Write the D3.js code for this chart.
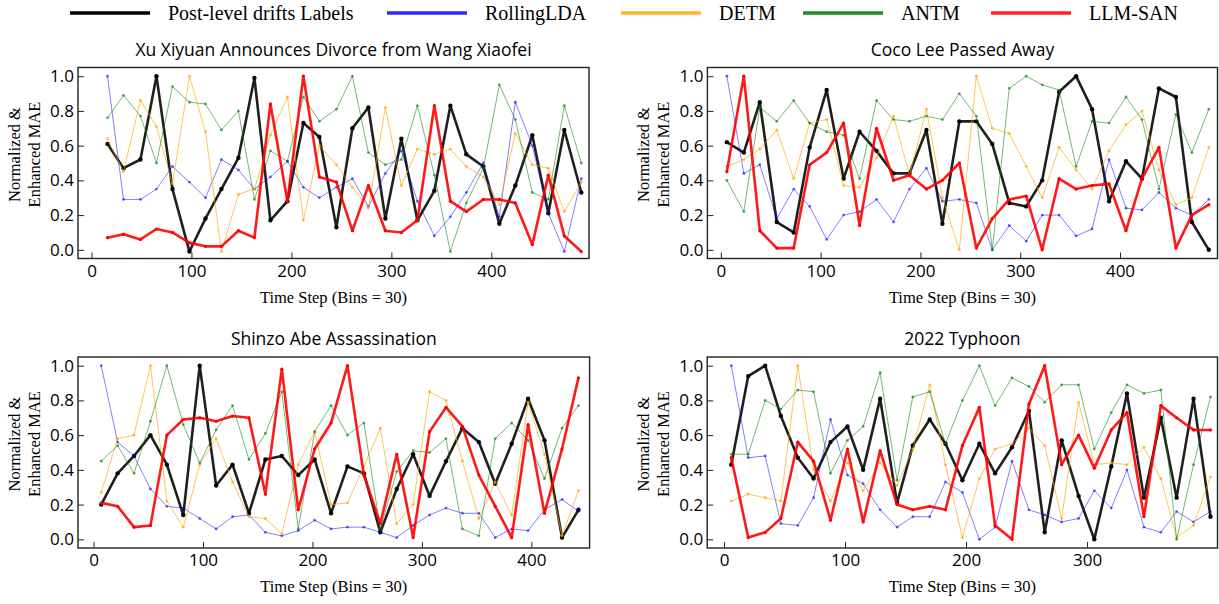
<!DOCTYPE html>
<html>
<head>
<meta charset="utf-8">
<script src="https://cdn.jsdelivr.net/npm/d3@7"></script>
<style>
  body { margin: 0; background: #fff; }
  .tick text { font-family: "Open Sans", sans-serif; font-size: 17px; fill: #000; }
  .title { font-family: "Open Sans", sans-serif; font-size: 17.5px; }
  .axlabel { font-family: "Liberation Serif", serif; font-size: 16.5px; }
  .legend text { font-family: "Liberation Serif", serif; font-size: 20px; }
</style>
</head>
<body>
<svg id="chart" width="1219" height="604"></svg>
<script>
// legend
const seriesNames = ["Post-level drifts Labels", "RollingLDA", "DETM", "ANTM", "LLM-SAN"];
const panelTitles = ["Xu Xiyuan Announces Divorce from Wang Xiaofei", "Coco Lee Passed Away", "Shinzo Abe Assassination", "2022 Typhoon"];

// Xu Xiyuan
const xuSteps = [16, 32, 49, 65, 81, 98, 114, 130, 147, 163, 179, 196, 212, 228, 245, 261, 277, 294, 310, 326, 343, 359, 375, 392, 408, 424, 441, 457, 473, 490];
const xuLabels = [0.61, 0.47, 0.52, 1.0, 0.35, -0.01, 0.18, 0.35, 0.53, 0.99, 0.17, 0.28, 0.73, 0.65, 0.13, 0.70, 0.82, 0.18, 0.64, 0.17, 0.34, 0.83, 0.55, 0.48, 0.15, 0.37, 0.66, 0.21, 0.69, 0.33];
const xuRolling = [1.0, 0.29, 0.29, 0.35, 0.48, 0.39, 0.30, 0.52, 0.46, 0.35, 0.42, 0.51, 0.36, 0.30, 0.36, 0.41, 0.25, 0.44, 0.57, 0.28, 0.08, 0.19, 0.33, 0.50, 0.19, 0.85, 0.60, 0.21, -0.01, 0.41];
const xuDetm = [0.64, 0.45, 0.86, 0.71, 0.38, 1.0, 0.68, -0.01, 0.32, 0.35, 0.66, 0.88, 0.17, 0.60, 0.49, 0.36, 0.24, 0.82, 0.37, 0.58, 0.55, 0.58, 0.48, 0.42, 0.26, 0.67, 0.49, 0.47, 0.22, 0.39];
const xuAntm = [0.76, 0.89, 0.77, 0.50, 0.94, 0.85, 0.84, 0.69, 0.80, 0.29, 0.57, 0.51, 0.88, 0.74, 0.81, 1.0, 0.56, 0.49, 0.52, 0.83, 0.43, -0.01, 0.27, 0.47, 0.95, 0.75, 0.33, 0.29, 0.83, 0.50];
const xuLlmSan = [0.07, 0.09, 0.06, 0.12, 0.10, 0.04, 0.02, 0.02, 0.11, 0.07, 0.84, 0.28, 1.0, 0.42, 0.39, 0.11, 0.37, 0.11, 0.10, 0.17, 0.83, 0.28, 0.22, 0.29, 0.29, 0.27, 0.03, 0.43, 0.08, -0.01];

// Coco Lee
const cocoSteps = [6, 23, 39, 56, 73, 89, 106, 123, 139, 156, 173, 189, 206, 222, 239, 256, 272, 289, 306, 322, 339, 356, 372, 389, 406, 422, 439, 456, 472, 489];
const cocoLabels = [0.62, 0.56, 0.85, 0.16, 0.10, 0.59, 0.92, 0.41, 0.68, 0.57, 0.44, 0.44, 0.69, 0.15, 0.74, 0.74, 0.61, 0.27, 0.25, 0.40, 0.91, 1.0, 0.81, 0.28, 0.51, 0.41, 0.93, 0.88, 0.16, 0.0];
const cocoRolling = [1.0, 0.44, 0.49, 0.18, 0.35, 0.25, 0.06, 0.20, 0.22, 0.29, 0.16, 0.35, 0.47, 0.28, 0.29, 0.27, 0.0, 0.14, 0.05, 0.20, 0.20, 0.08, 0.12, 0.52, 0.24, 0.23, 0.33, 0.24, 0.20, 0.29];
const cocoDetm = [0.48, 0.52, 0.58, 0.69, 0.41, 0.73, 0.75, 0.37, 0.36, 0.53, 0.77, 0.43, 0.81, 0.30, 0.0, 1.0, 0.70, 0.67, 0.48, 0.30, 0.59, 0.46, 0.35, 0.57, 0.72, 0.80, 0.46, 0.26, 0.30, 0.59];
const cocoAntm = [0.40, 0.22, 0.82, 0.74, 0.86, 0.73, 0.68, 0.66, 0.41, 0.86, 0.75, 0.74, 0.77, 0.75, 0.90, 0.77, 0.0, 0.93, 1.0, 0.95, 0.92, 0.48, 0.74, 0.73, 0.88, 0.75, 0.35, 0.78, 0.56, 0.81];
const cocoLlmSan = [0.45, 1.0, 0.11, 0.01, 0.01, 0.49, 0.56, 0.73, 0.14, 0.70, 0.40, 0.43, 0.35, 0.40, 0.50, 0.01, 0.18, 0.29, 0.31, 0.0, 0.41, 0.35, 0.37, 0.38, 0.11, 0.41, 0.59, 0.01, 0.20, 0.26];

// Shinzo Abe
const abeSteps = [7, 22, 37, 52, 67, 82, 97, 112, 127, 142, 157, 172, 187, 202, 217, 232, 247, 262, 277, 292, 307, 322, 337, 352, 367, 382, 397, 412, 428, 443];
const abeLabels = [0.20, 0.38, 0.48, 0.60, 0.43, 0.14, 1.0, 0.31, 0.43, 0.15, 0.46, 0.48, 0.37, 0.46, 0.15, 0.42, 0.38, 0.04, 0.29, 0.49, 0.25, 0.45, 0.64, 0.56, 0.32, 0.55, 0.81, 0.57, 0.01, 0.17];
const abeRolling = [1.0, 0.56, 0.48, 0.29, 0.19, 0.18, 0.12, 0.06, 0.13, 0.14, 0.04, 0.02, 0.05, 0.11, 0.06, 0.07, 0.07, 0.04, 0.01, 0.08, 0.14, 0.18, 0.15, 0.15, 0.01, 0.06, 0.05, 0.17, 0.23, 0.16];
const abeDetm = [0.27, 0.58, 0.60, 1.0, 0.22, 0.07, 0.43, 0.58, 0.33, 0.13, 0.12, 0.03, 0.43, 0.62, 0.20, 0.21, 0.42, 0.64, 0.09, 0.20, 0.85, 0.80, 0.45, 0.12, 0.33, 0.14, 0.79, 0.49, 0.02, 0.28];
const abeAntm = [0.45, 0.54, 0.38, 0.68, 1.0, 0.66, 0.44, 0.63, 0.77, 0.46, 0.61, 0.85, 0.06, 0.62, 0.77, 0.60, 0.67, 0.06, 0.39, 0.51, 0.50, 0.58, 0.06, 0.02, 0.58, 0.67, 0.57, 0.35, 0.64, 0.77];
const abeLlmSan = [0.21, 0.19, 0.07, 0.08, 0.60, 0.69, 0.70, 0.68, 0.71, 0.70, 0.26, 0.98, 0.17, 0.52, 0.67, 1.0, 0.37, 0.09, 0.49, 0.01, 0.62, 0.76, 0.65, 0.37, 0.19, 0.01, 0.66, 0.15, 0.52, 0.93];

// 2022 Typhoon
const typhoonSteps = [6, 20, 34, 47, 61, 74, 88, 102, 115, 129, 143, 156, 170, 183, 197, 211, 224, 238, 252, 265, 279, 293, 306, 320, 333, 347, 361, 374, 388, 402];
const typhoonLabels = [0.43, 0.94, 1.0, 0.71, 0.47, 0.35, 0.56, 0.65, 0.40, 0.81, 0.21, 0.54, 0.69, 0.55, 0.34, 0.55, 0.38, 0.53, 0.74, 0.04, 0.57, 0.25, 0.0, 0.42, 0.84, 0.24, 0.70, 0.24, 0.81, 0.13];
const typhoonRolling = [1.0, 0.47, 0.48, 0.09, 0.08, 0.24, 0.69, 0.37, 0.32, 0.17, 0.07, 0.13, 0.13, 0.33, 0.27, 0.0, 0.07, 0.45, 0.17, 0.14, 0.10, 0.12, 0.28, 0.18, 0.40, 0.07, 0.04, 0.16, 0.10, 0.16];
const typhoonDetm = [0.22, 0.26, 0.24, 0.22, 1.0, 0.40, 0.22, 0.44, 0.28, 0.44, 0.31, 0.52, 0.89, 0.43, 0.01, 0.35, 0.52, 0.55, 0.64, 0.54, 0.12, 0.79, 0.43, 0.44, 0.43, 0.53, 0.35, 0.01, 0.08, 0.36];
const typhoonAntm = [0.49, 0.49, 0.80, 0.75, 0.86, 0.85, 0.38, 0.57, 0.65, 0.96, 0.34, 0.82, 0.85, 0.55, 0.80, 1.0, 0.77, 0.93, 0.88, 0.79, 0.89, 0.89, 0.52, 0.73, 0.89, 0.84, 0.86, 0.0, 0.43, 0.82];
const typhoonLlmSan = [0.47, 0.01, 0.04, 0.12, 0.56, 0.45, 0.11, 0.52, 0.10, 0.51, 0.20, 0.17, 0.19, 0.17, 0.54, 0.76, 0.08, 0.0, 0.78, 1.0, 0.43, 0.60, 0.41, 0.63, 0.73, 0.13, 0.77, 0.70, 0.63, 0.63];

const yTicks = [0, 0.2, 0.4, 0.6, 0.8, 1.0];

// line styles, in legend order
const styles = [
    { color: "#000", width: 2.6, opacity: 0.88, r: 2.2, legend: "#000" },
    { color: "#0000ff", width: 1, opacity: 0.5, r: 1.4, legend: "#2b2bff" },
    { color: "#ffa500", width: 1, opacity: 0.65, r: 1.4, legend: "#ffb530" },
    { color: "#008000", width: 1, opacity: 0.55, r: 1.4, legend: "#238b23" },
    { color: "#ff0000", width: 2.6, opacity: 0.9, r: 1.6, legend: "#ff2020" }
];

const panels = [
    { title: panelTitles[0], steps: xuSteps, series: [xuLabels, xuRolling, xuDetm, xuAntm, xuLlmSan],
      box: { left: 78, right: 589, top: 67.5, bottom: 258.5 }, xDomain: [-13.5, 497.7], xTicks: [0, 100, 200, 300, 400] },
    { title: panelTitles[1], steps: cocoSteps, series: [cocoLabels, cocoRolling, cocoDetm, cocoAntm, cocoLlmSan],
      box: { left: 707.4, right: 1217.5, top: 67.5, bottom: 258.5 }, xDomain: [-13.5, 497.7], xTicks: [0, 100, 200, 300, 400] },
    { title: panelTitles[2], steps: abeSteps, series: [abeLabels, abeRolling, abeDetm, abeAntm, abeLlmSan],
      box: { left: 78, right: 589.6, top: 357, bottom: 548 }, xDomain: [-14.2, 453.2], xTicks: [0, 100, 200, 300, 400] },
    { title: panelTitles[3], steps: typhoonSteps, series: [typhoonLabels, typhoonRolling, typhoonDetm, typhoonAntm, typhoonLlmSan],
      box: { left: 707.2, right: 1217.5, top: 357, bottom: 548 }, xDomain: [-13.9, 407.8], xTicks: [0, 100, 200, 300] }
];

const svg = d3.select("#chart");

panels.forEach(p => {
    const b = p.box;
    const x = d3.scaleLinear().domain(p.xDomain).range([b.left, b.right]);
    const y = d3.scaleLinear().domain([-0.05, 1.05]).range([b.bottom, b.top]);
    const g = svg.append("g");

    const xAxis = g.append("g")
        .attr("transform", `translate(0,${b.bottom})`)
        .call(d3.axisBottom(x).tickValues(p.xTicks).tickSize(-6).tickPadding(6).tickFormat(d3.format("d")));
    const yAxis = g.append("g")
        .attr("transform", `translate(${b.left},0)`)
        .call(d3.axisLeft(y).tickValues(yTicks).tickSize(-6).tickPadding(4).tickFormat(d3.format(".1f")));
    [xAxis, yAxis].forEach(a => {
        a.select(".domain").remove();
        a.selectAll(".tick line").attr("stroke", "#222");
    });

    const line = d3.line()
        .x((d, i) => x(p.steps[i]))
        .y(d => y(d));

    p.series.forEach((vals, k) => {
        const s = styles[k];
        g.append("path")
            .datum(vals)
            .attr("fill", "none")
            .attr("stroke", s.color)
            .attr("stroke-width", s.width)
            .attr("stroke-opacity", s.opacity)
            .attr("stroke-linejoin", "round")
            .attr("d", line);
        g.append("g")
            .selectAll("circle")
            .data(vals)
            .join("circle")
            .attr("cx", (d, i) => x(p.steps[i]))
            .attr("cy", d => y(d))
            .attr("r", s.r)
            .attr("fill", s.color)
            .attr("fill-opacity", Math.min(1, s.opacity + 0.1));
    });

    g.append("rect")
        .attr("x", b.left)
        .attr("y", b.top)
        .attr("width", b.right - b.left)
        .attr("height", b.bottom - b.top)
        .attr("fill", "none")
        .attr("stroke", "#222")
        .attr("stroke-width", 1.4);

    g.append("text")
        .attr("class", "title")
        .attr("x", (b.left + b.right) / 2)
        .attr("y", b.top - 12)
        .attr("text-anchor", "middle")
        .text(p.title);

    g.append("text")
        .attr("class", "axlabel")
        .attr("x", (b.left + b.right) / 2)
        .attr("y", b.bottom + 44)
        .attr("text-anchor", "middle")
        .text("Time Step (Bins = 30)");

    const yl = g.append("text")
        .attr("class", "axlabel")
        .attr("text-anchor", "middle")
        .attr("transform", `translate(${b.left - 58},${b.top + 87}) rotate(-90)`);
    yl.append("tspan").attr("x", 0).attr("y", 0).text("Normalized &");
    yl.append("tspan").attr("x", 0).attr("y", 20).text("Enhanced MAE");
});

// legend across the top
const legendX = [70, 387, 621, 803, 991];
const legend = svg.append("g").attr("class", "legend");
seriesNames.forEach((name, k) => {
    legend.append("line")
        .attr("x1", legendX[k]).attr("x2", legendX[k] + 80)
        .attr("y1", 13).attr("y2", 13)
        .attr("stroke", styles[k].legend)
        .attr("stroke-width", 3.5);
    legend.append("text")
        .attr("x", legendX[k] + 98)
        .attr("y", 20)
        .text(name);
});
</script>
</body>
</html>
